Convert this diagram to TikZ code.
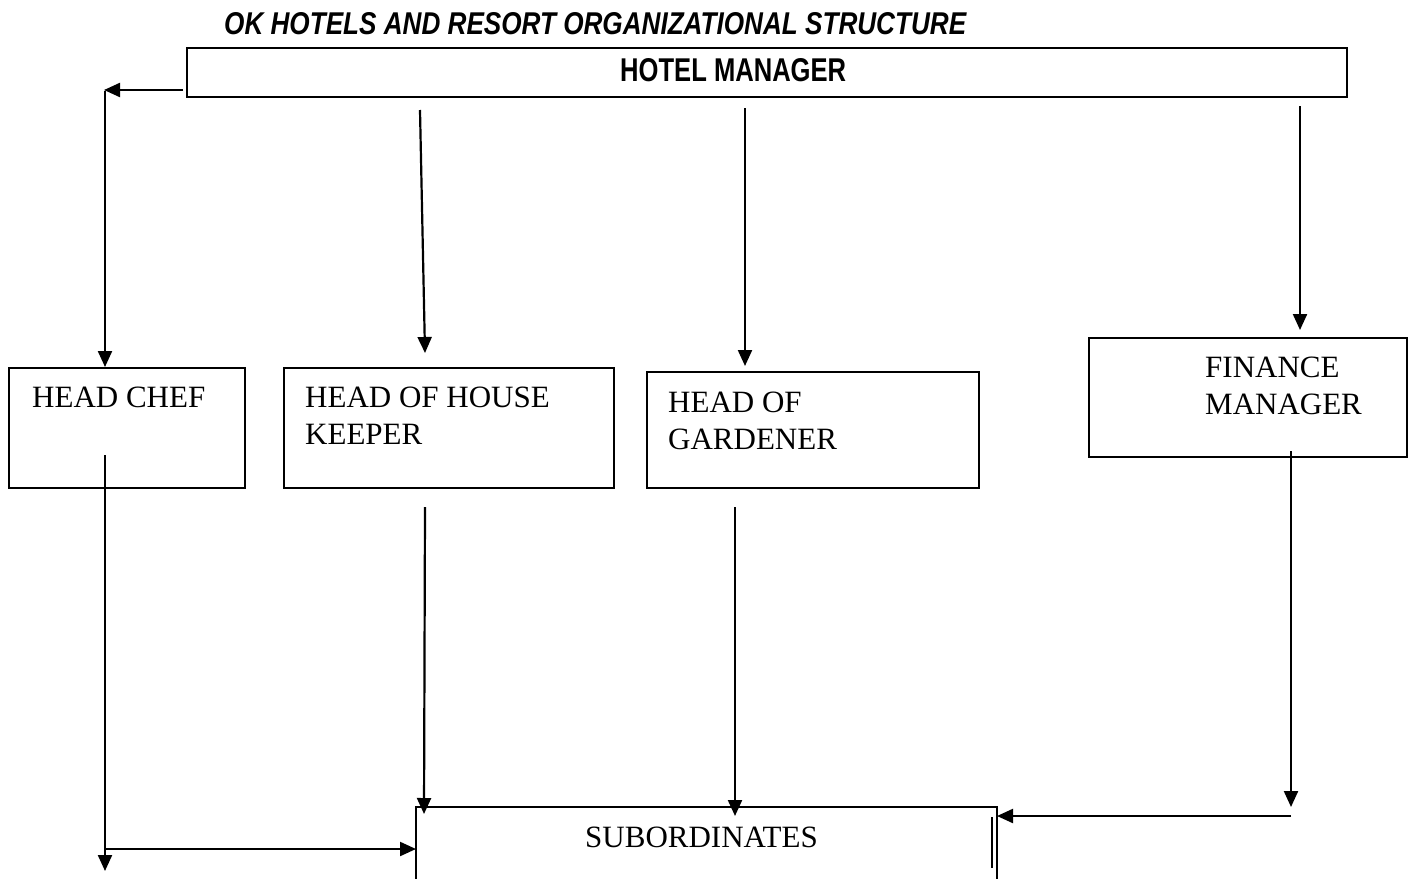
\documentclass[tikz,border=0pt]{standalone}
\usepackage{fontspec}
\usepackage{graphicx}
\setmainfont{Liberation Serif}
\newfontfamily\arialfont{Liberation Sans}
\usetikzlibrary{arrows.meta}
\tikzset{
  boxnode/.style={draw, line width=2pt, rectangle, inner sep=0pt, anchor=north west},
  lbl/.style={anchor=base west, inner sep=0pt, font=\fontsize{31}{37}\selectfont, align=left},
  conn/.style={line width=2.2pt, -{Triangle[length=16pt,width=14pt]}},
  plain/.style={line width=2pt}
}
\begin{document}
\begin{tikzpicture}[x=1pt,y=-1pt]
\useasboundingbox (0,0) rectangle (1408,878);
% title
\node[anchor=base west, inner sep=0pt] (title) at (224,34)
  {\resizebox{742pt}{22pt}{\arialfont\bfseries\itshape OK HOTELS AND RESORT ORGANIZATIONAL STRUCTURE}};
% boxes
\node[boxnode, minimum width=1160pt, minimum height=49pt] (hm) at (186,47) {};
\node[anchor=base west, inner sep=0pt] (hmtext) at (620,81)
  {\resizebox{226pt}{23pt}{\arialfont\bfseries HOTEL MANAGER}};
\node[boxnode, minimum width=236pt, minimum height=120pt] (chef) at (8,367) {};
\node[boxnode, minimum width=330pt, minimum height=120pt] (house) at (283,367) {};
\node[boxnode, minimum width=332pt, minimum height=116pt] (garden) at (646,371) {};
\node[boxnode, minimum width=318pt, minimum height=119pt] (finance) at (1088,337) {};
% subordinates (open bottom)
\coordinate (subBL) at (416,880);
\coordinate (subTL) at (416,807);
\coordinate (subTR) at (997,807);
\coordinate (subBR) at (997,880);
\draw[plain] (subBL) -- (subTL) -- (subTR) -- (subBR);
\coordinate (subIa) at (992,817);
\coordinate (subIb) at (992,868);
\draw[line width=1.8pt] (subIa) -- (subIb);
% labels (anchor = baseline of last line)
\node[lbl] (chefL) at (32,407) {HEAD CHEF};
\node[lbl] (houseL) at (305,444) {HEAD OF HOUSE\\KEEPER};
\node[lbl] (gardenL) at (668,449) {HEAD OF\\GARDENER};
\node[lbl] (financeL) at (1205,414) {FINANCE\\MANAGER};
\node[lbl] (subL) at (585,847) {SUBORDINATES};
% connector coordinates
\coordinate (a1s) at (183,90);
\coordinate (a1e) at (104,90);
\coordinate (a2s) at (105,91);
\coordinate (a2e) at (105,367);
\coordinate (a3s) at (420,110);
\coordinate (a3e) at (425,353);
\coordinate (a4s) at (745,108);
\coordinate (a4e) at (745,366);
\coordinate (a5s) at (1300,106);
\coordinate (a5e) at (1300,330);
\coordinate (b1s) at (105,455);
\coordinate (b1e) at (105,871);
\coordinate (b2s) at (105,849);
\coordinate (b2e) at (416,849);
\coordinate (b3s) at (425,507);
\coordinate (b3e) at (424,814);
\coordinate (b4s) at (735,507);
\coordinate (b4e) at (735,816);
\coordinate (b5s) at (1291,451);
\coordinate (b5e) at (1291,807);
\coordinate (b6s) at (1291,816);
\coordinate (b6e) at (997,816);
% connectors
\draw[conn] (a1s) -- (a1e);
\draw[conn] (a2s) -- (a2e);
\draw[conn] (a3s) -- (a3e);
\draw[conn] (a4s) -- (a4e);
\draw[conn] (a5s) -- (a5e);
\draw[conn] (b1s) -- (b1e);
\draw[conn] (b2s) -- (b2e);
\draw[conn] (b3s) -- (b3e);
\draw[conn] (b4s) -- (b4e);
\draw[conn] (b5s) -- (b5e);
\draw[conn] (b6s) -- (b6e);
\end{tikzpicture}
\end{document}
